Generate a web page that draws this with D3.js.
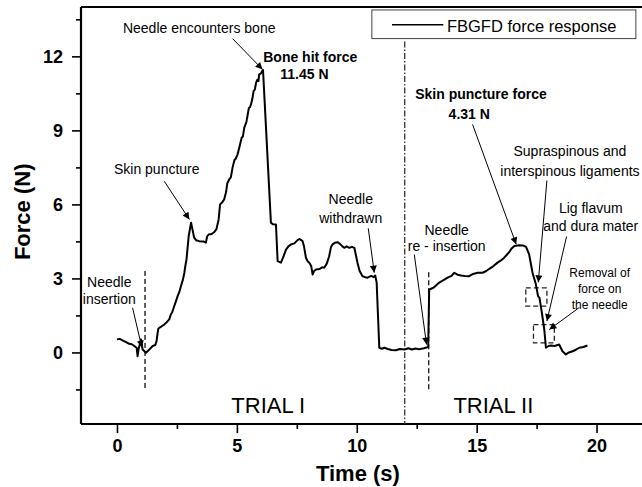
<!DOCTYPE html>
<html>
<head>
<meta charset="utf-8">
<script src="https://cdn.jsdelivr.net/npm/d3@7"></script>
<style>
  html, body { margin: 0; padding: 0; background: #fff; }
  svg { display: block; }
  text { font-family: "Liberation Sans", Arial, Helvetica, sans-serif; fill: #000; }
</style>
</head>
<body>
<svg id="chart" width="642" height="487"></svg>
<script>
// ---------------- data ----------------
const timeS = [0, 0.12, 0.23, 0.38, 0.51, 0.62, 0.72, 0.82, 0.86, 0.9, 1.0, 1.07, 1.21, 1.35, 1.49, 1.6, 1.65, 1.72, 1.76, 1.85, 1.97, 2.05, 2.18, 2.25, 2.3, 2.39, 2.45, 2.53, 2.6, 2.67, 2.75, 2.81, 2.85, 2.9, 2.99, 3.09,
  3.22, 3.3, 3.43, 3.6, 3.71, 3.76, 3.82, 3.95, 4.06, 4.15, 4.24, 4.3, 4.4, 4.47, 4.55, 4.6, 4.68, 4.75, 4.82, 4.9, 4.95, 5.03, 5.1, 5.2, 5.25, 5.31, 5.4, 5.5, 5.55, 5.59, 5.65, 5.7, 5.75, 5.8, 5.85, 5.9, 5.93, 6.0, 6.05, 6.09,
  6.42, 6.5, 6.63, 6.7, 6.84, 6.95, 7.05, 7.15, 7.26, 7.4, 7.53, 7.62, 7.74, 7.8, 7.88, 7.95, 8.02, 8.1, 8.16, 8.22, 8.3, 8.45, 8.55, 8.64, 8.75, 8.85, 8.92, 8.99, 9.1, 9.2, 9.3, 9.4, 9.48, 9.58, 9.69, 9.8, 9.9,
  10.03, 10.12, 10.24, 10.35, 10.45, 10.6, 10.7, 10.77, 10.83, 10.94, 11.05, 11.15, 11.3, 11.45, 11.63, 11.8, 12.0, 12.15, 12.3, 12.45, 12.6, 12.8, 12.98,
  13.02, 13.2, 13.44, 13.6, 13.79, 13.95, 14.07, 14.2, 14.35, 14.5, 14.69, 14.85, 15.04, 15.25, 15.4, 15.53, 15.7, 15.87, 16.0, 16.15, 16.25, 16.36, 16.45, 16.57, 16.78, 16.95, 17.06,
  17.19, 17.33, 17.47, 17.56, 17.62, 17.72, 17.82, 17.89, 18.0, 18.1, 18.25, 18.44, 18.58, 18.72, 18.85, 19.0, 19.12, 19.28, 19.45, 19.62];
const forceN = [0.53, 0.55, 0.49, 0.42, 0.35, 0.33, 0.26, 0.19, -0.15, 0.12, 0.53, 0.12, -0.01, 0.12, 0.26, 0.3, 0.46, 0.95, 1.0, 1.05, 1.13, 1.2, 1.34, 1.55, 1.62, 1.88, 2.05, 2.28, 2.45, 2.69, 2.95, 3.23, 3.5, 3.77, 4.71, 5.26,
  4.65, 4.55, 4.51, 4.5, 4.45, 4.7, 4.78, 4.8, 4.88, 5.0, 5.39, 6.0, 6.1, 6.2, 6.5, 6.85, 7.01, 7.1, 7.49, 7.8, 7.85, 8.03, 8.3, 8.7, 8.75, 9.11, 9.35, 9.9, 9.95, 10.05, 10.3, 10.6, 10.65, 10.93, 11.05, 11.0, 11.27, 11.3, 11.4, 11.45,
  5.26, 5.2, 5.19, 3.7, 3.64, 3.9, 4.17, 4.3, 4.38, 4.42, 4.55, 4.6, 4.51, 4.3, 3.84, 3.7, 3.64, 3.5, 3.16, 3.3, 3.36, 3.38, 3.45, 3.43, 3.6, 3.9, 4.25, 4.38, 4.45, 4.47, 4.4, 4.3, 4.24, 4.3, 4.24, 4.28, 4.24,
  3.64, 3.3, 3.09, 3.05, 3.03, 3.1, 3.05, 3.12, 2.83, 0.19, 0.15, 0.19, 0.14, 0.1, 0.09, 0.14, 0.12, 0.17, 0.12, 0.16, 0.13, 0.17, 0.22,
  2.55, 2.62, 2.83, 2.92, 3.03, 3.1, 3.23, 3.15, 3.12, 3.1, 3.09, 3.18, 3.23, 3.23, 3.3, 3.39, 3.5, 3.64, 3.72, 3.84, 3.95, 4.07, 4.2, 4.31, 4.34, 4.33, 4.28,
  3.97, 3.23, 2.76, 2.28, 2.22, 1.61, 0.93, 0.19, 0.26, 0.28, 0.26, 0.32, 0.05, -0.08, 0.0, 0.05, 0.1, 0.19, 0.22, 0.28];

const xTicks = [0, 5, 10, 15, 20];
const xMinorTicks = [2.5, 7.5, 12.5, 17.5];
const yTicks = [0, 3, 6, 9, 12];
const yMinorTicks = [-1.5, 1.5, 4.5, 7.5, 10.5, 13.5];

const seriesName = "FBGFD force response";
const xTitle = "Time (s)";
const yTitle = "Force (N)";

// trial divider and insertion markers (time, from force, to force)
const trialDivider = {t: 12, f0: -2.9, f1: 12.6};
const insertionMarks = [{t: 1.17, f0: -1.5, f1: 3.3}, {t: 13.0, f0: -1.5, f1: 3.25}];
const trialLabels = [{text: "TRIAL I", t: 4.77, f: -2.47}, {text: "TRIAL II", t: 14.03, f: -2.47}];

// dashed boxes (t0, t1, f0, f1)
const boxes = [{t0: 17.05, t1: 17.93, f0: 1.88, f1: 2.62}, {t0: 17.37, t1: 18.24, f0: 0.39, f1: 1.13}];

// annotation texts: lines, anchor point in data units, arrow from/to in data units
const notes = [
  {lines: ["Needle", "insertion"], t: -0.32, f: [2.66, 1.97], anchor: "middle", size: 14, bold: false, arrow: [0.65, 1.81, 1.04, 0.2]},
  {lines: ["Skin puncture"], t: 1.66, f: [7.22], anchor: "middle", size: 14, bold: false, arrow: [1.97, 6.94, 3.02, 5.39]},
  {lines: ["Needle encounters bone"], t: 3.43, f: [12.93], anchor: "middle", size: 14, bold: false, arrow: [4.82, 12.72, 6.07, 11.47]},
  {lines: ["Bone hit force"], t: 6.1, f: [11.77], anchor: "start", size: 14, bold: true},
  {lines: ["11.45 N"], t: 6.81, f: [11.07], anchor: "start", size: 14, bold: true},
  {lines: ["Needle", "withdrawn"], t: 9.75, f: [6.0, 5.26], anchor: "middle", size: 14, bold: false, arrow: [10.48, 5.03, 10.73, 3.23]},
  {lines: ["Skin puncture force"], t: 12.44, f: [10.26], anchor: "start", size: 14, bold: true},
  {lines: ["4.31 N"], t: 13.83, f: [9.45], anchor: "start", size: 14, bold: true, arrow: [14.83, 9.24, 16.65, 4.38]},
  {lines: ["Supraspinous and", "interspinous ligaments"], t: 18.89, f: [7.96, 7.17], anchor: "middle", size: 14, bold: false, arrow: [17.93, 6.97, 17.57, 2.84]},
  {lines: ["Lig flavum", "and dura mater"], t: 19.76, f: [5.66, 4.92], anchor: "middle", size: 14, bold: false, arrow: [18.75, 4.7, 17.93, 1.27]},
  {lines: ["Removal of", "force on", "the needle"], t: 20.13, f: [3.07, 2.39, 1.78], anchor: "middle", size: 12, bold: false, arrow: [19.28, 1.82, 18.03, 0.93]},
  {lines: ["Needle", "re - insertion"], t: 13.75, f: [4.74, 4.11], anchor: "middle", size: 14, bold: false, arrow: [12.4, 3.97, 12.91, 0.32]}
];

// ---------------- chart ----------------
const svg = d3.select("#chart");
const x = d3.scaleLinear().domain([-1.5, 22]).range([81, 644.5]);
const y = d3.scaleLinear().domain([-2.9, 14]).range([424, 7]);

const defs = svg.append("defs");
defs.append("marker").attr("id", "arr").attr("viewBox", "0 0 10 10")
  .attr("refX", 10).attr("refY", 5).attr("markerWidth", 9).attr("markerHeight", 7)
  .attr("markerUnits", "userSpaceOnUse").attr("orient", "auto")
  .append("path").attr("d", "M0,0 L10,5 L0,10 Z").attr("fill", "#000");

// frame: top line
svg.append("line").attr("x1", x(-1.5)).attr("x2", 642).attr("y1", y(14)).attr("y2", y(14))
  .attr("stroke", "#000").attr("stroke-width", 2.2);

// axes
const xAxis = d3.axisBottom(x).tickValues(xTicks).tickSize(9).tickPadding(6).tickFormat(d3.format("d"));
const gx = svg.append("g").attr("transform", `translate(0,${y(-2.9)})`).call(xAxis);
gx.select(".domain").attr("stroke-width", 2.2).attr("d", `M${x(-1.5)},0H642`);
gx.selectAll(".tick line").attr("stroke-width", 1.6);
gx.selectAll(".tick text").style("font-size", "18px").style("font-weight", "bold");
const gxm = svg.append("g").attr("transform", `translate(0,${y(-2.9)})`)
  .call(d3.axisBottom(x).tickValues(xMinorTicks).tickSize(5).tickFormat(""));
gxm.select(".domain").remove();
gxm.selectAll(".tick line").attr("stroke-width", 1.6);

const yAxis = d3.axisLeft(y).tickValues(yTicks).tickSize(9).tickPadding(9).tickFormat(d3.format("d"));
const gy = svg.append("g").attr("transform", `translate(${x(-1.5)},0)`).call(yAxis);
gy.select(".domain").attr("stroke-width", 2.2).attr("d", `M0,${y(14)}V${y(-2.9)}`);
gy.selectAll(".tick line").attr("stroke-width", 1.6);
gy.selectAll(".tick text").style("font-size", "18px").style("font-weight", "bold");
const gym = svg.append("g").attr("transform", `translate(${x(-1.5)},0)`)
  .call(d3.axisLeft(y).tickValues(yMinorTicks).tickSize(5).tickFormat(""));
gym.select(".domain").remove();
gym.selectAll(".tick line").attr("stroke-width", 1.6);

// axis titles
svg.append("text").attr("x", x(10.05)).attr("y", 481).attr("text-anchor", "middle")
  .style("font-size", "22px").style("font-weight", "bold").text(xTitle);
svg.append("text").attr("transform", `translate(30,${y(5.7)}) rotate(-90)`).attr("text-anchor", "middle")
  .style("font-size", "22px").style("font-weight", "bold").text(yTitle);

// trial divider (dash-dot) and insertion lines (dashed)
svg.append("line").attr("x1", x(trialDivider.t)).attr("x2", x(trialDivider.t))
  .attr("y1", y(trialDivider.f1)).attr("y2", y(trialDivider.f0))
  .attr("stroke", "#333").attr("stroke-width", 1.3).attr("stroke-dasharray", "6,2,1.5,2");
svg.selectAll(".ins").data(insertionMarks).join("line")
  .attr("x1", d => x(d.t)).attr("x2", d => x(d.t)).attr("y1", d => y(d.f1)).attr("y2", d => y(d.f0))
  .attr("stroke", "#222").attr("stroke-width", 1.4).attr("stroke-dasharray", "5,3");

// dashed boxes
svg.selectAll(".box").data(boxes).join("rect")
  .attr("x", d => x(d.t0)).attr("y", d => y(d.f1))
  .attr("width", d => x(d.t1) - x(d.t0)).attr("height", d => y(d.f0) - y(d.f1))
  .attr("fill", "none").attr("stroke", "#222").attr("stroke-width", 1.3).attr("stroke-dasharray", "5,3");

// trial labels
svg.selectAll(".trial").data(trialLabels).join("text")
  .attr("x", d => x(d.t)).attr("y", d => y(d.f)).style("font-size", "22px").text(d => d.text);

// data line
const pts = timeS.map((t, i) => [t, forceN[i]]);
svg.append("path").datum(pts)
  .attr("d", d3.line().x(d => x(d[0])).y(d => y(d[1])))
  .attr("fill", "none").attr("stroke", "#000").attr("stroke-width", 2).attr("stroke-linejoin", "round");

// annotations
notes.forEach(n => {
  n.lines.forEach((ln, i) => {
    svg.append("text").attr("x", x(n.t)).attr("y", y(n.f[i])).attr("text-anchor", n.anchor)
      .style("font-size", n.size + "px").style("font-weight", n.bold ? "bold" : "normal").text(ln);
  });
  if (n.arrow) {
    svg.append("line").attr("x1", x(n.arrow[0])).attr("y1", y(n.arrow[1]))
      .attr("x2", x(n.arrow[2])).attr("y2", y(n.arrow[3]))
      .attr("stroke", "#000").attr("stroke-width", 1).attr("marker-end", "url(#arr)");
  }
});

// legend
const lg = svg.append("g");
lg.append("rect").attr("x", x(10.63)).attr("y", y(13.88)).attr("width", x(21.64) - x(10.63))
  .attr("height", y(12.72) - y(13.88)).attr("fill", "#fff").attr("stroke", "#444").attr("stroke-width", 1);
lg.append("line").attr("x1", x(11.47)).attr("x2", x(13.61)).attr("y1", y(13.28)).attr("y2", y(13.28))
  .attr("stroke", "#000").attr("stroke-width", 1.5);
lg.append("text").attr("x", x(13.76)).attr("y", y(12.97)).style("font-size", "16.5px").text(seriesName);
</script>
</body>
</html>
